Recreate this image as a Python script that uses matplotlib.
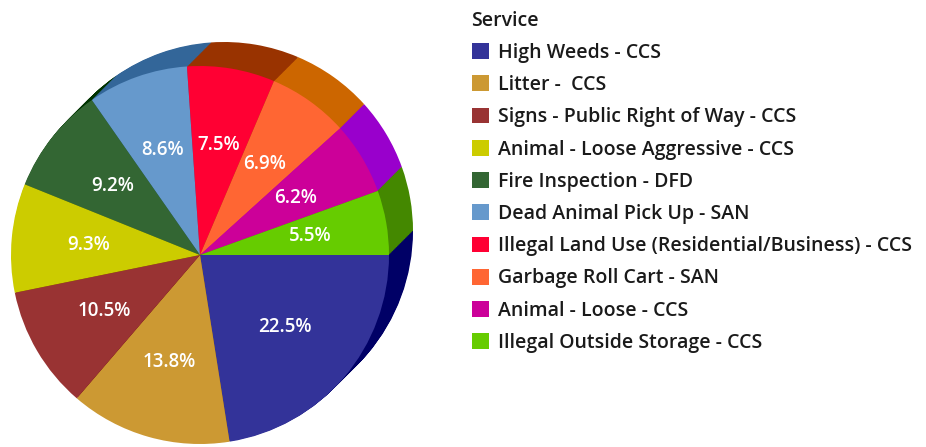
import numpy as np
from matplotlib import pyplot as plt
from matplotlib.patches import Patch

plt.rcParams['font.family'] = ['Open Sans', 'DejaVu Sans']

services = ['High Weeds - CCS', 'Litter -  CCS', 'Signs - Public Right of Way - CCS',
            'Animal - Loose Aggressive - CCS', 'Fire Inspection - DFD',
            'Dead Animal Pick Up - SAN', 'Illegal Land Use (Residential/Business) - CCS',
            'Garbage Roll Cart - SAN', 'Animal - Loose - CCS', 'Illegal Outside Storage - CCS']
shares = [22.5, 13.8, 10.5, 9.3, 9.2, 8.6, 7.5, 6.9, 6.2, 5.5]
face_colors = ['#333399', '#CC9933', '#993333', '#CCCC00', '#336633',
               '#6699CC', '#FF0033', '#FF6633', '#CC0099', '#66CC00']
side_colors = ['#000066', '#996600', '#660000', '#999900', '#003300',
               '#336699', '#993300', '#CC6600', '#9900CC', '#448800']

W, H = 926, 447
cx, cy = 200, 447 - 255
r = 189
depth = 24

fig = plt.figure(figsize=(W / 100, H / 100), dpi=100)
ax = fig.add_axes([0, 0, 1, 1])

# side wall: sweep darker copies from the back to the front
n = 30
for k in range(n, 0, -1):
    off = depth * k / n
    ax.pie(shares, colors=side_colors, center=(cx + off, cy + off), radius=r,
           startangle=0, counterclock=False, wedgeprops=dict(linewidth=0))

wedges, texts, autotexts = ax.pie(shares, colors=face_colors, center=(cx, cy), radius=r,
                                  startangle=0, counterclock=False,
                                  autopct='%.1f%%', pctdistance=0.59,
                                  wedgeprops=dict(linewidth=0),
                                  textprops=dict(color='white', fontsize=13.5,
                                                 fontweight='semibold'))

ax.set_xlim(0, W)
ax.set_ylim(0, H)
ax.set_aspect('equal')
ax.axis('off')

handles = [Patch(facecolor=c, edgecolor='none') for c in face_colors]
leg = fig.legend(handles, services, title='Service', loc='upper left',
                 bbox_to_anchor=(454 / W, 1 + 7 / H), frameon=False,
                 prop=dict(size=14, weight='semibold'),
                 title_fontproperties=dict(size=14, weight='semibold'),
                 alignment='left',
                 handlelength=0.88, handleheight=0.88, handletextpad=0.5,
                 labelspacing=0.63)
for t in leg.get_texts():
    t.set_color('#1a1a1a')
leg.get_title().set_color('#1a1a1a')

fig.savefig('out.png', dpi=100)
